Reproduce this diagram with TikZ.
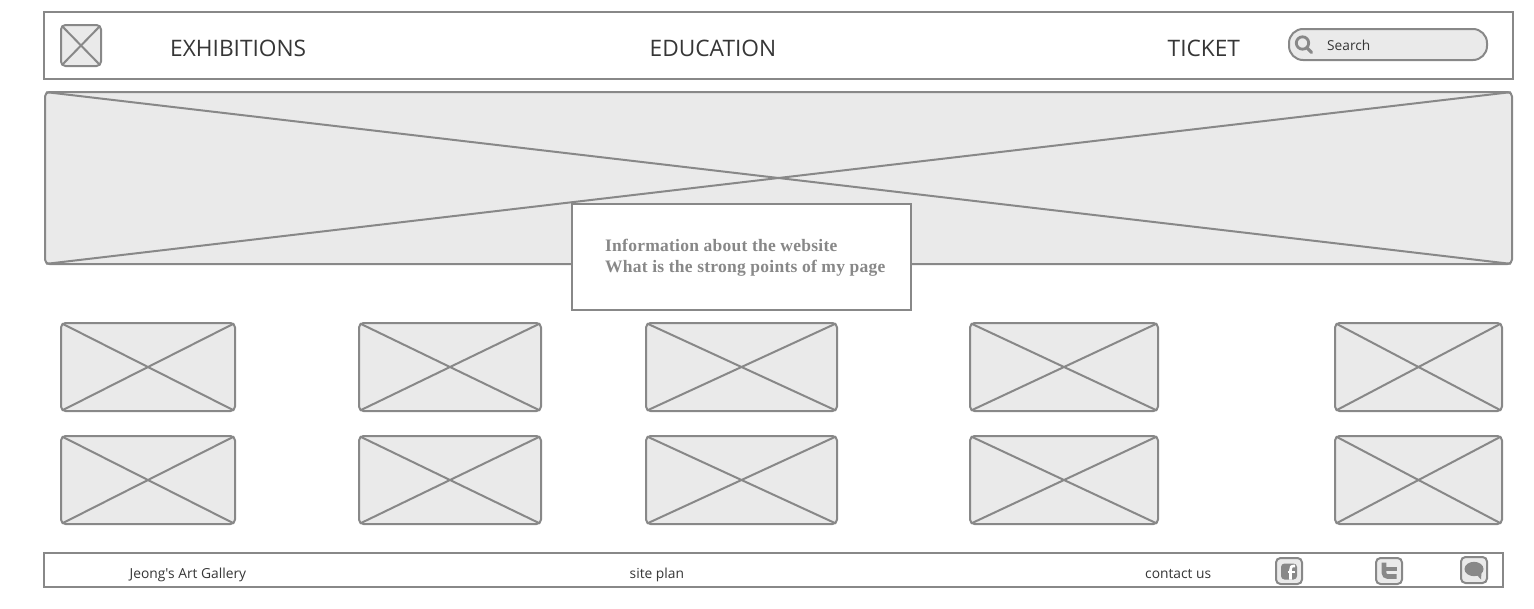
\documentclass[tikz,border=0pt]{standalone}
\usepackage{fontspec}
\setmainfont{Open Sans}
\newfontfamily\plainsans{Open Sans}
\newfontfamily\serifbf[LetterSpace=1.4]{Liberation Serif}
\definecolor{wline}{HTML}{888888}
\definecolor{wfill}{HTML}{EAEAEA}
\definecolor{wtext}{HTML}{363636}
\tikzset{
  x=1pt,y=-1pt,
  frame/.style={draw=wline,line width=2pt,fill=white,inner sep=0pt,outer sep=0pt},
  imgbox/.style={draw=wline,line width=2pt,fill=wfill,rounded corners=4.5pt,inner sep=0pt,outer sep=0pt},
  cross/.style={draw=wline,line width=2pt,shorten >=1.3pt,shorten <=1.3pt},
  navlabel/.style={text=wtext,font=\fontsize{22.7}{27}\selectfont,inner sep=0pt},
  footlabel/.style={text=wtext,font=\plainsans\fontsize{13.8}{16}\selectfont,inner sep=0pt},
}
% #1 name, #2 x1, #3 y1, #4 x2, #5 y2
\newcommand{\boxat}[6]{%
  \pgfmathsetmacro{\bw}{#4-#2}\pgfmathsetmacro{\bh}{#5-#3}%
  \node[#6,anchor=north west,minimum width=\bw pt,minimum height=\bh pt] (#1) at (#2,#3) {};}
\newcommand{\phbox}[5]{%
  \boxat{#1}{#2}{#3}{#4}{#5}{imgbox}%
  \draw[cross] (#1.north west) -- (#1.south east);
  \draw[cross] (#1.south west) -- (#1.north east);}
\begin{document}
\begin{tikzpicture}
\useasboundingbox (0,0) rectangle (1534,608);
\fill[white] (0,0) rectangle (1534,608);
% header
\boxat{header}{44}{12}{1513}{79}{frame}
\phbox{logo}{61}{25}{101}{66}
\node[navlabel,anchor=base west] (navA) at (170,56.3) {EXHIBITIONS};
\node[navlabel,anchor=base west] (navB) at (649.5,56.3) {EDUCATION};
\node[navlabel,anchor=base west] (navC) at (1167.5,56.3) {TICKET};
% search
\boxat{search}{1289}{29}{1487}{60}{imgbox,rounded corners=14pt}
\draw[wline,line width=2.8pt] (1302.5,43) circle (6.2);
\draw[wline,line width=3.2pt,line cap=round] (1307,48) -- (1311.5,52.5);
\node[text=wtext,font=\fontsize{13.7}{16}\selectfont,inner sep=0pt,anchor=base west] (searchtext) at (1327,50) {Search};
% hero
\phbox{hero}{45}{92}{1512}{264}
% info
\boxat{info}{572}{204}{911}{310}{frame}
\node[text=wline,anchor=north west,align=left,inner sep=0pt,font=\serifbf\bfseries\fontsize{17.5}{21.5}\selectfont] (infotext) at (605,238.7) {Information about the website\\What is the strong points of my page};
% thumbnails
\phbox{t11}{61}{323}{235}{411}
\phbox{t12}{359}{323}{541}{411}
\phbox{t13}{646}{323}{837}{411}
\phbox{t14}{970}{323}{1158}{411}
\phbox{t15}{1335}{323}{1502}{411}
\phbox{t21}{61}{436}{235}{524}
\phbox{t22}{359}{436}{541}{524}
\phbox{t23}{646}{436}{837}{524}
\phbox{t24}{970}{436}{1158}{524}
\phbox{t25}{1335}{436}{1502}{524}
% footer
\boxat{footer}{44}{553}{1503}{587}{frame}
\node[footlabel,anchor=base west] (fA) at (129.5,578) {Jeong's Art Gallery};
\node[footlabel,anchor=base west] (fB) at (629.5,578) {site plan};
\node[footlabel,anchor=base west] (fC) at (1145,578) {contact us};
% facebook
\boxat{fb}{1276}{558}{1302}{584}{imgbox}
\fill[wline,rounded corners=3.5pt] (1281,563.5) rectangle (1297,579.5);
\draw[white,line width=2.6pt] (1295,566) .. controls (1291,565.5) and (1290.5,567.5) .. (1290.5,570) -- (1290.5,579.5);
\draw[white,line width=2.2pt] (1287.5,572) -- (1294.5,572);
% twitter
\boxat{tw}{1376}{558}{1402}{584}{imgbox}
\draw[wline,line width=4.6pt,rounded corners=3.5pt] (1384,562.5) -- (1384,576.5) -- (1396.5,576.5);
\draw[wline,line width=4.2pt] (1384,569) -- (1396.5,569);
% speech bubble
\boxat{bubble}{1461}{557}{1487}{583}{imgbox}
\fill[wline] (1474,569) ellipse (9.5 and 7.2);
\fill[wline] (1476,574) -- (1481,579.5) -- (1481.5,572) -- cycle;
\end{tikzpicture}
\end{document}
